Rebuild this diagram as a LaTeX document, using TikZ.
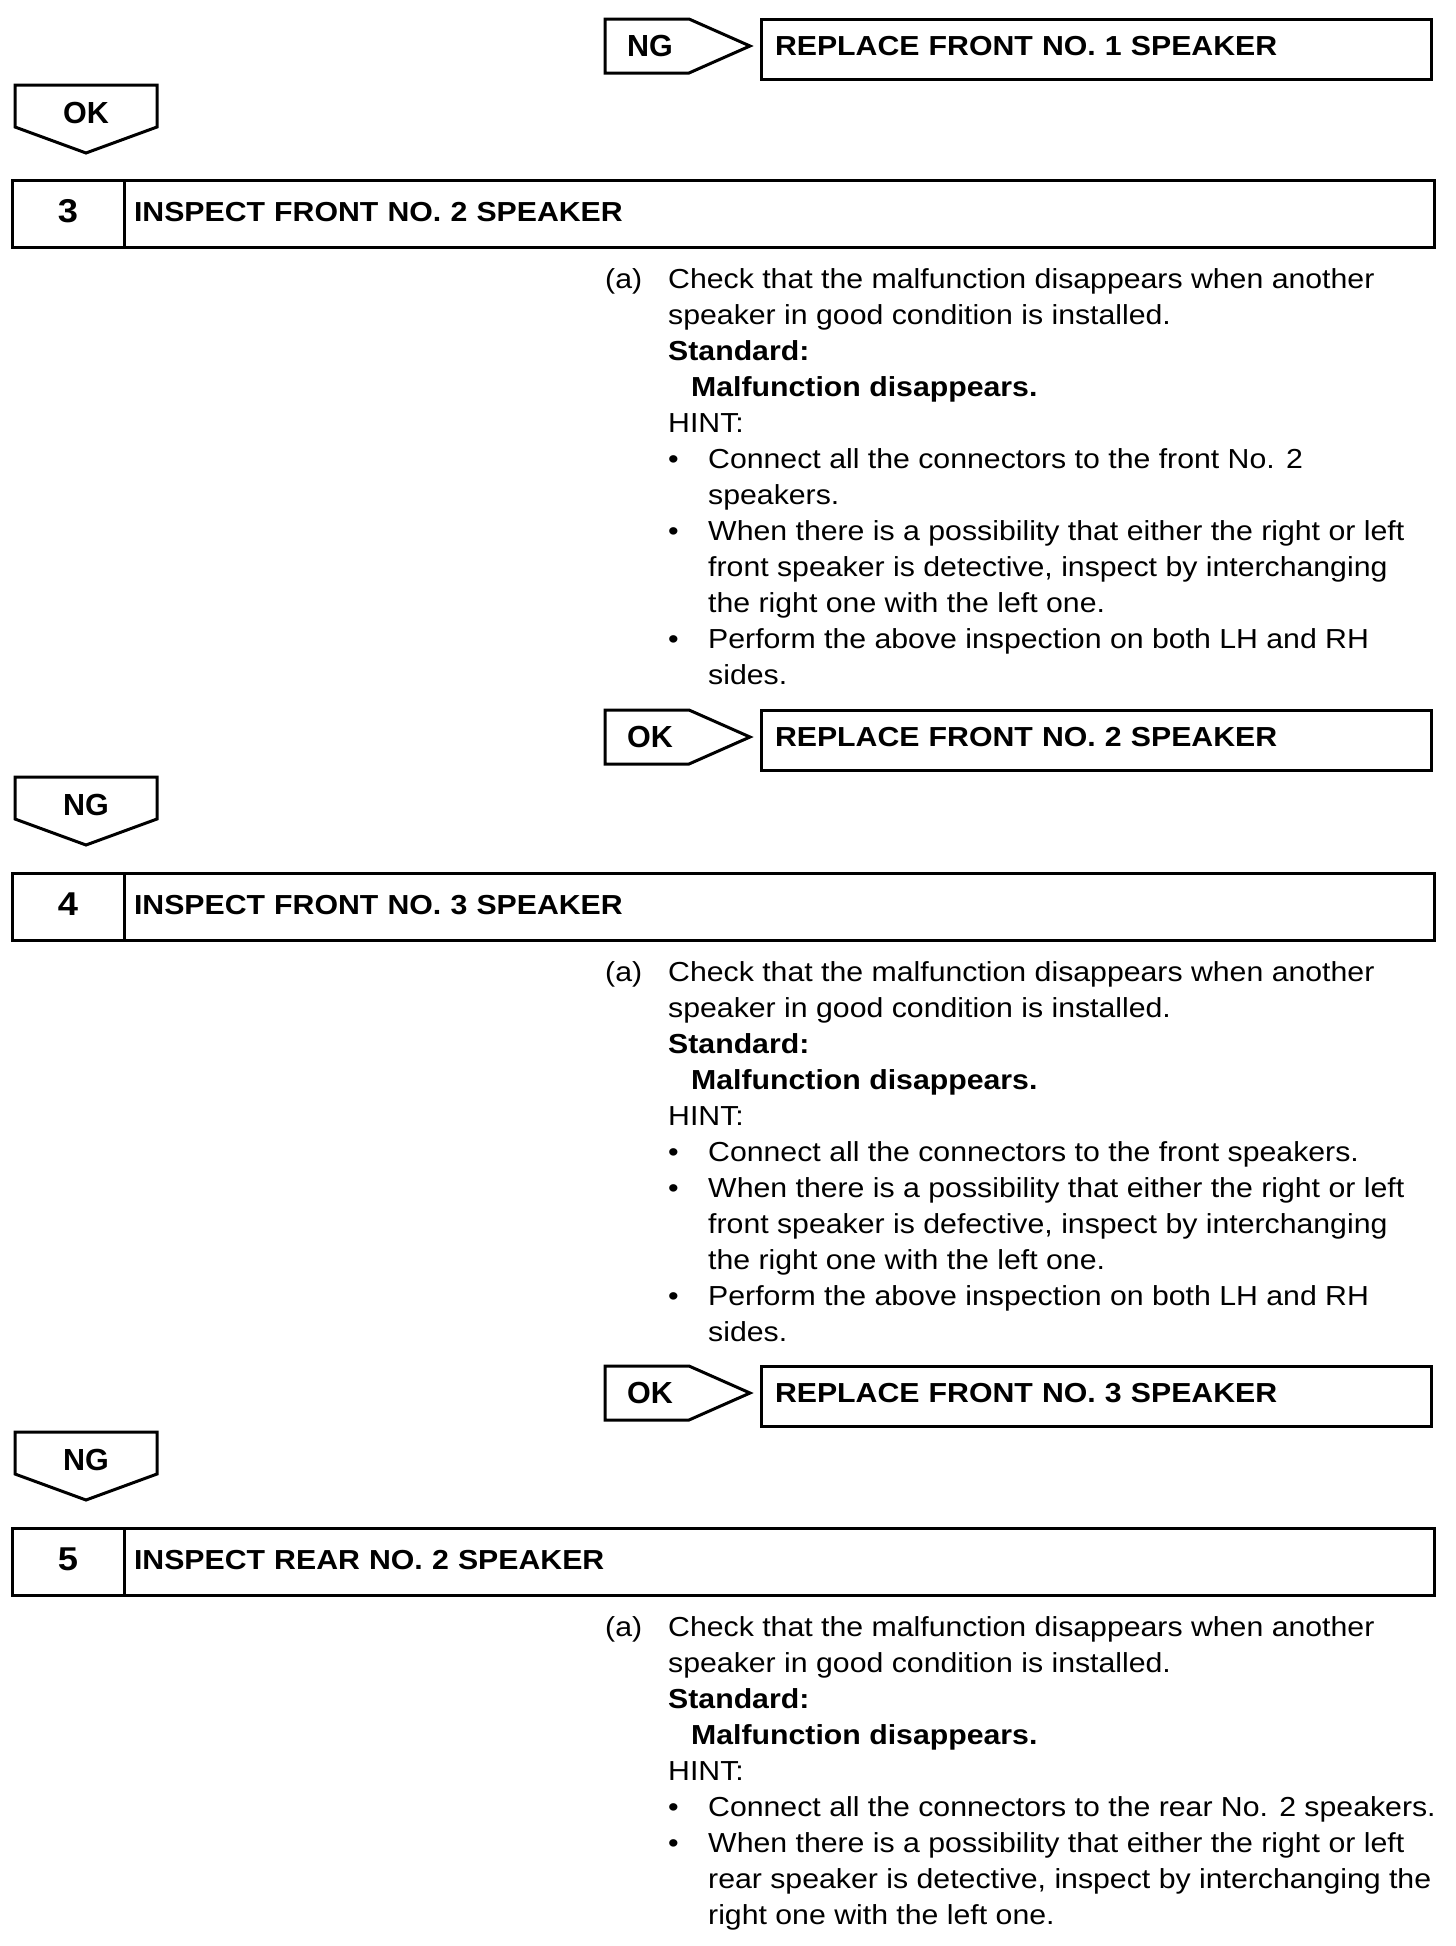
\documentclass[tikz,border=0pt]{standalone}
\usepackage{fontspec}
\setmainfont{Liberation Sans}[FakeStretch=1.1]
\newfontfamily\tagfamily{Liberation Sans}
\usetikzlibrary{positioning}

\newcommand{\bodyfont}{\fontsize{27.5}{36}\selectfont}
\newcommand{\hintdot}{\makebox[40pt][l]{\textbullet}}
\newcommand{\hintgap}{\hspace*{40pt}}

\begin{document}
\begin{tikzpicture}[x=1pt, y=-1pt,
    frame/.style={draw, line width=3pt},
    tag/.style={inner sep=0pt, font=\tagfamily\bfseries\fontsize{30.5}{36}\selectfont},
    stepnum/.style={frame, outer sep=0pt, inner sep=0pt, minimum width=112pt, minimum height=67pt, text depth=5pt, font=\bfseries\fontsize{33}{36}\selectfont},
    steptitle/.style={frame, outer sep=0pt, inner ysep=0pt, inner xsep=10pt, text width=1290pt, minimum height=67pt, text depth=3pt, align=left, font=\bfseries\bodyfont},
    repbox/.style={frame, outer sep=0pt, inner ysep=0pt, inner xsep=14pt, text width=642pt, minimum height=60pt, text depth=6pt, align=left, font=\bfseries\bodyfont},
    body/.style={inner sep=0pt, anchor=base west, font=\bodyfont}
]
\useasboundingbox (0,0) rectangle (1456,1946);

% NG -> replace front No. 1
\draw[frame] (605,19) -- (689,19) -- (750,46) -- (689,73) -- (605,73) -- cycle;
\node[tag] (ng1) at (650,46) {NG};
\node[repbox, anchor=north west] (rep1) at (761,19) {REPLACE FRONT NO. 1 SPEAKER};

% OK down
\draw[frame] (15,85) -- (157,85) -- (157,127) -- (86,153) -- (15,127) -- cycle;
\node[tag] (ok1) at (86,113) {OK};

% Step 3
\node[stepnum, anchor=north west] (num3) at (12,180) {3};
\node[steptitle, right=0pt of num3] (title3) {INSPECT FRONT NO. 2 SPEAKER};
\node[body] (a3) at (605,288) {(a)};
\node[body] (text3) at (668,288) {\parbox[t]{780pt}{%
  Check that the malfunction disappears when another\\
  speaker in good condition is installed.\\
  \textbf{Standard:}\\
  \hspace*{23pt}\textbf{Malfunction disappears.}\\
  HINT:\\
  \hintdot Connect all the connectors to the front No. 2\\
  \hintgap speakers.\\
  \hintdot When there is a possibility that either the right or left\\
  \hintgap front speaker is detective, inspect by interchanging\\
  \hintgap the right one with the left one.\\
  \hintdot Perform the above inspection on both LH and RH\\
  \hintgap sides.}};

% OK -> replace front No. 2
\draw[frame] (605,710) -- (689,710) -- (750,737) -- (689,764) -- (605,764) -- cycle;
\node[tag] (ok2) at (650,737) {OK};
\node[repbox, anchor=north west] (rep2) at (761,710) {REPLACE FRONT NO. 2 SPEAKER};

% NG down
\draw[frame] (15,777) -- (157,777) -- (157,819) -- (86,845) -- (15,819) -- cycle;
\node[tag] (ng2) at (86,805) {NG};

% Step 4
\node[stepnum, anchor=north west] (num4) at (12,873) {4};
\node[steptitle, right=0pt of num4] (title4) {INSPECT FRONT NO. 3 SPEAKER};
\node[body] (a4) at (605,981) {(a)};
\node[body] (text4) at (668,981) {\parbox[t]{780pt}{%
  Check that the malfunction disappears when another\\
  speaker in good condition is installed.\\
  \textbf{Standard:}\\
  \hspace*{23pt}\textbf{Malfunction disappears.}\\
  HINT:\\
  \hintdot Connect all the connectors to the front speakers.\\
  \hintdot When there is a possibility that either the right or left\\
  \hintgap front speaker is defective, inspect by interchanging\\
  \hintgap the right one with the left one.\\
  \hintdot Perform the above inspection on both LH and RH\\
  \hintgap sides.}};

% OK -> replace front No. 3
\draw[frame] (605,1366) -- (689,1366) -- (750,1393) -- (689,1420) -- (605,1420) -- cycle;
\node[tag] (ok3) at (650,1393) {OK};
\node[repbox, anchor=north west] (rep3) at (761,1366) {REPLACE FRONT NO. 3 SPEAKER};

% NG down
\draw[frame] (15,1432) -- (157,1432) -- (157,1474) -- (86,1500) -- (15,1474) -- cycle;
\node[tag] (ng3) at (86,1460) {NG};

% Step 5
\node[stepnum, anchor=north west] (num5) at (12,1528) {5};
\node[steptitle, right=0pt of num5] (title5) {INSPECT REAR NO. 2 SPEAKER};
\node[body] (a5) at (605,1636) {(a)};
\node[body] (text5) at (668,1636) {\parbox[t]{780pt}{%
  Check that the malfunction disappears when another\\
  speaker in good condition is installed.\\
  \textbf{Standard:}\\
  \hspace*{23pt}\textbf{Malfunction disappears.}\\
  HINT:\\
  \hintdot Connect all the connectors to the rear No. 2 speakers.\\
  \hintdot When there is a possibility that either the right or left\\
  \hintgap rear speaker is detective, inspect by interchanging the\\
  \hintgap right one with the left one.}};

\end{tikzpicture}
\end{document}
